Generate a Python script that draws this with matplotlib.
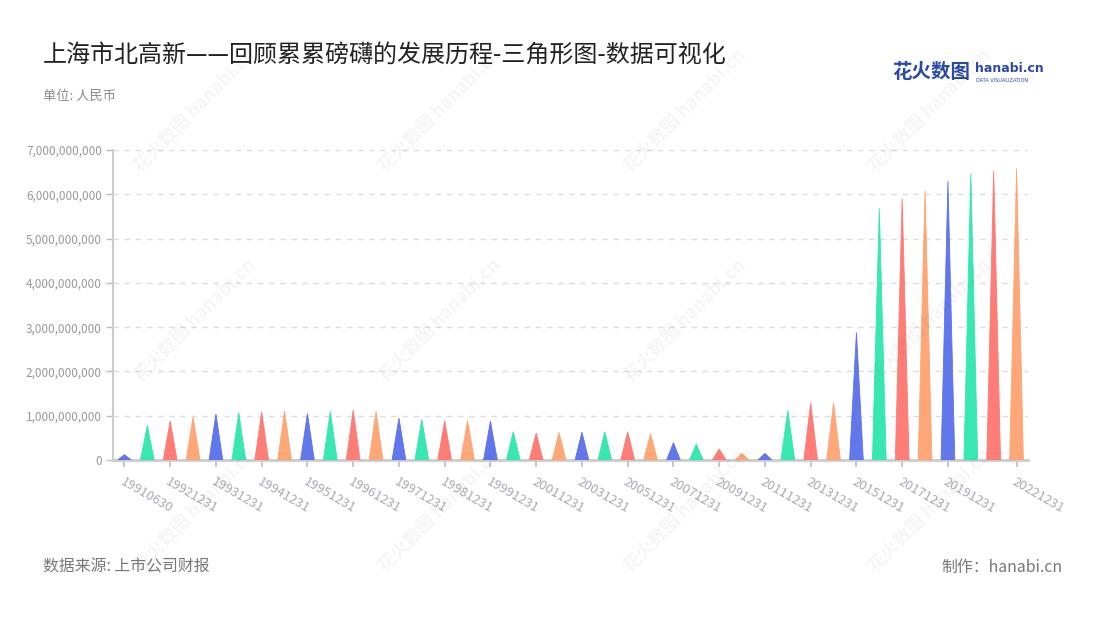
import matplotlib
matplotlib.use("Agg")
import matplotlib.pyplot as plt
from matplotlib.ticker import FuncFormatter

plt.rcParams['font.family'] = ['Noto Sans CJK SC', 'DejaVu Sans']

# report dates (one triangle each)
dates = ["19910630", "19911231", "19921231", "19930630", "19931231", "19940630",
         "19941231", "19950630", "19951231", "19960630", "19961231", "19970630",
         "19971231", "19980630", "19981231", "19990630", "19991231", "20001231",
         "20011231", "20021231", "20031231", "20041231", "20051231", "20061231",
         "20071231", "20081231", "20091231", "20101231", "20111231", "20121231",
         "20131231", "20141231", "20151231", "20161231", "20171231", "20181231",
         "20191231", "20201231", "20211231", "20221231"]

# values in billions of RMB
values_bn = [0.12, 0.78, 0.88, 0.97, 1.04, 1.07, 1.08, 1.11, 1.05, 1.10,
             1.13, 1.10, 0.95, 0.92, 0.89, 0.89, 0.88, 0.64, 0.61, 0.62,
             0.63, 0.64, 0.64, 0.60, 0.39, 0.36, 0.25, 0.15, 0.15, 1.12,
             1.29, 1.29, 2.88, 5.68, 5.91, 6.08, 6.30, 6.47, 6.53, 6.58]
values = [v * 1e9 for v in values_bn]

palette = ["#5a70ea", "#2ee6ae", "#ff7670", "#ffa270"]
labeled_idx = [0, 2, 4, 6, 8, 10, 12, 14, 16, 18, 20, 22, 24, 26, 28, 30, 32, 34, 36, 39]

fig = plt.figure(figsize=(11, 6.2), dpi=100)
ax = fig.add_axes([113 / 1100, 160 / 620, 915 / 1100, 310 / 620])

# triangles
half = 0.3
for i, v in enumerate(values):
    ax.fill([i - half, i + half, i], [0, 0, v], color=palette[i % 4], lw=0.6,
            ec=palette[i % 4], alpha=0.95, zorder=3)

ax.set_xlim(-0.5, len(dates) - 0.5)
ax.set_ylim(0, 7e9)
ax.set_yticks([k * 1e9 for k in range(8)])
ax.yaxis.set_major_formatter(FuncFormatter(lambda y, p: f"{int(y):,}"))
ax.grid(axis='y', color='#dddddd', linestyle=(0, (4, 4)), lw=1)
ax.set_axisbelow(True)

ax.set_xticks(labeled_idx)
ax.set_xticklabels([dates[i] for i in labeled_idx], rotation=-30, ha='left',
                   rotation_mode='anchor', color='#a9a9b5', fontsize=9.3)
ax.tick_params(axis='x', length=5, color='#bbbbbb', width=1.2, pad=6)
ax.tick_params(axis='y', length=5, color='#bbbbbb', width=1, labelcolor='#999999',
               labelsize=8.5, pad=3)

for s in ['top', 'right']:
    ax.spines[s].set_visible(False)
ax.spines['left'].set_color('#cccccc')
ax.spines['left'].set_linewidth(1.5)
ax.spines['bottom'].set_color('#cccccc')
ax.spines['bottom'].set_linewidth(2)

# watermarks
for wx in [195, 440, 685, 930]:
    for wy in [110, 320, 510]:
        fig.text(wx / 1100, 1 - wy / 620, "花火数图 hanabi.cn", rotation=45,
                 fontsize=13, color='#000000', alpha=0.045, ha='center', va='center',
                 fontweight='bold')

# titles and notes
fig.text(43 / 1100, 1 - 55 / 620, "上海市北高新——回顾累累磅礴的发展历程-三角形图-数据可视化",
         fontsize=17.3, color='#222222', va='center', ha='left')
fig.text(43 / 1100, 1 - 96 / 620, "单位: 人民币", fontsize=9.5, color='#8a8a8a',
         va='center', ha='left')
fig.text(43 / 1100, 1 - 567 / 620, "数据来源: 上市公司财报", fontsize=11.4, color='#777777',
         va='center', ha='left')
fig.text(1062 / 1100, 1 - 567 / 620, "制作：hanabi.cn", fontsize=11.4, color='#777777',
         va='center', ha='right')

# logo
fig.text(892 / 1100, 1 - 73 / 620, "花火数图", fontsize=14, color='#2a4aa6',
         fontweight='bold', va='center', ha='left')
fig.text(975 / 1100, 1 - 69 / 620, "hanabi.cn", fontsize=9, color='#2a4aa6',
         fontweight='bold', va='center', ha='left', family=['DejaVu Sans'])
fig.text(976 / 1100, 1 - 80 / 620, "DATA VISUALIZATION", fontsize=3.6, color='#2a4aa6',
         va='center', ha='left', family=['DejaVu Sans'])

fig.savefig("out.png", dpi=100)
